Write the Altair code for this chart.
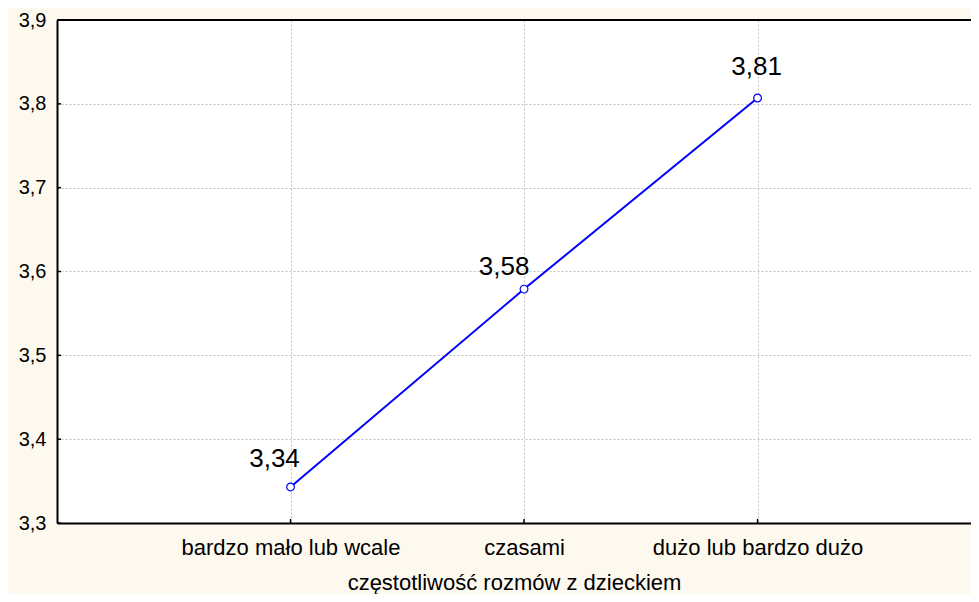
import json
import altair as alt
import pandas as pd

categories = ["bardzo mało lub wcale", "czasami", "dużo lub bardzo dużo"]
values = [3.343, 3.579, 3.807]
y_ticks = [3.3, 3.4, 3.5, 3.6, 3.7, 3.8, 3.9]
x_title = "częstotliwość rozmów z dzieckiem"

# label offsets (styling only)
label_offsets = [(-16, -28), (-20, -22), (-1, -31)]

W, H = 914, 503
FONT = "Liberation Sans"
BLUE = "#0000FF"

df = pd.DataFrame({"idx": list(range(1, len(categories) + 1)), "v": values})
ticks_df = pd.DataFrame({"t": y_ticks})

cat_js = json.dumps(categories, ensure_ascii=False)

xscale = alt.Scale(domain=[0, 3.914], nice=False, zero=False)
yscale = alt.Scale(domain=[3.3, 3.9], nice=False, zero=False)

x_enc = alt.X(
    "idx:Q",
    scale=xscale,
    axis=alt.Axis(
        values=[1, 2, 3],
        labelExpr=f"{cat_js}[datum.value - 1]",
        title=x_title,
        titleFont=FONT,
        titleFontSize=22,
        titleFontWeight="normal",
        titleColor="black",
        titlePadding=14,
        labelFont=FONT,
        labelFontSize=22,
        labelColor="black",
        labelPadding=14,
        labelLimit=0,
        ticks=False,
        domainColor="black",
        domainWidth=2,
        grid=True,
        gridColor="#c0c0c0",
        gridDash=[2, 2],
        gridWidth=1,
        labelFlush=False,
    ),
)
y_enc = alt.Y(
    "v:Q",
    scale=yscale,
    axis=alt.Axis(
        values=y_ticks,
        labelExpr="replace(format(datum.value, '.1f'), '.', ',')",
        title=None,
        labelFont=FONT,
        labelFontSize=20,
        labelColor="black",
        labelPadding=11,
        ticks=False,
        domainColor="black",
        domainWidth=2,
        grid=True,
        gridColor="#c0c0c0",
        gridDash=[2, 2],
        gridWidth=1,
        labelFlush=False,
    ),
)

base = alt.Chart(df)

line = base.mark_line(color=BLUE, strokeWidth=2).encode(x=x_enc, y=y_enc)
points = base.mark_point(
    shape="circle", filled=True, fill="white", stroke=BLUE, strokeWidth=1.2, size=60, opacity=1
).encode(x="idx:Q", y="v:Q")

label_layers = []
for i, (dx, dy) in enumerate(label_offsets):
    label_layers.append(
        base.transform_filter(f"datum.idx == {i + 1}")
        .transform_calculate(lab="replace(format(datum.v, '.2f'), '.', ',')")
        .mark_text(font=FONT, fontSize=26, color="black", dx=dx, dy=dy, baseline="middle", align="center")
        .encode(x="idx:Q", y="v:Q", text="lab:N")
    )

# small inward ticks on the y axis
ytick_marks = alt.Chart(ticks_df).mark_rule(color="black", strokeWidth=1.5).encode(
    y=alt.Y("t:Q", scale=yscale), x=alt.value(0), x2=alt.value(4)
)
# small inward ticks on the x axis
xtick_marks = alt.Chart(df).mark_rule(color="black", strokeWidth=1.5).encode(
    x=alt.X("idx:Q", scale=xscale), y=alt.value(H), y2=alt.value(H - 4)
)
# top border
top_border = alt.Chart(df).mark_rule(color="black", strokeWidth=2).encode(
    x=alt.value(0), x2=alt.value(W), y=alt.value(0)
)

chart = (
    alt.layer(line, ytick_marks, xtick_marks, top_border, points, *label_layers)
    .properties(
        width=W,
        height=H,
        background="#FEF9EF",
        autosize=alt.AutoSizeParams(type="none"),
        padding={"left": 49, "top": 12, "right": 0, "bottom": 71},
    )
    .configure_view(stroke=None, fill="white")
)

chart.save("out.html", embed_options={"renderer": "svg", "actions": False})
